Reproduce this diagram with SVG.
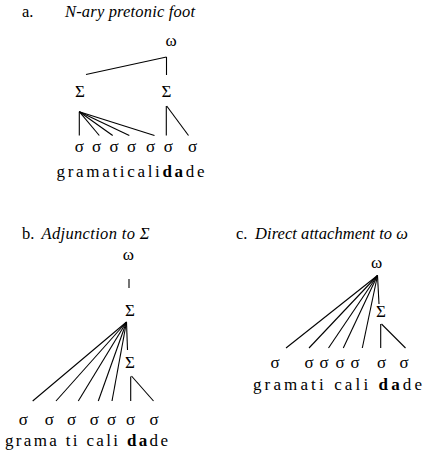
<svg xmlns="http://www.w3.org/2000/svg" width="427" height="460" viewBox="0 0 427 460" font-family="'Liberation Serif', 'DejaVu Serif', serif">
<style>
text{font-family:"Liberation Serif","DejaVu Serif",serif;fill:#000}
.t{font-size:16.5px}
.it{font-style:italic}
.n{font-size:17px;text-anchor:middle}
.w{font-size:17px}
.b{font-weight:bold}
.c line{stroke:#000;stroke-width:1.1;stroke-linecap:butt}
</style>
<rect width="427" height="460" fill="#fff"/>
<g id="titles">
<text class="t" x="22" y="17">a.</text>
<text class="t it" x="65" y="17" textLength="130" lengthAdjust="spacing">N-ary pretonic foot</text>
<text class="t" x="22" y="239">b.</text>
<text class="t it" x="41.5" y="239" textLength="108" lengthAdjust="spacing">Adjunction to Σ</text>
<text class="t" x="236" y="239">c.</text>
<text class="t it" x="255" y="239" textLength="153" lengthAdjust="spacing">Direct attachment to ω</text>
</g>
<!-- Tree a -->
<g id="a-omega"><text class="n" x="171" y="46">ω</text></g>
<g id="a-foot1"><text class="n" x="80" y="97">Σ</text></g>
<g id="a-foot2"><text class="n" x="166.5" y="97">Σ</text></g>
<g id="a-syllables">
<text class="n" x="79.3" y="151.5">σ</text>
<text class="n" x="96.7" y="151.5">σ</text>
<text class="n" x="114" y="151.5">σ</text>
<text class="n" x="131.7" y="151.5">σ</text>
<text class="n" x="150.7" y="151.5">σ</text>
<text class="n" x="168.3" y="151.5">σ</text>
<text class="n" x="192.5" y="151.5">σ</text>
</g>
<g id="a-word"><text class="w" x="56.5" y="177" textLength="148" lengthAdjust="spacing">gramaticali<tspan class="b">da</tspan>de</text></g>
<!-- Tree b -->
<g id="b-omega"><text class="n" x="128.3" y="259.5">ω</text></g>
<g id="b-foot1"><text class="n" x="130" y="316">Σ</text></g>
<g id="b-foot2"><text class="n" x="130" y="368">Σ</text></g>
<g id="b-syllables">
<text class="n" x="23.3" y="425">σ</text>
<text class="n" x="49.3" y="425">σ</text>
<text class="n" x="71.7" y="425">σ</text>
<text class="n" x="94.3" y="425">σ</text>
<text class="n" x="111.7" y="425">σ</text>
<text class="n" x="130.7" y="425">σ</text>
<text class="n" x="154" y="425">σ</text>
</g>
<g id="b-word"><text class="w" x="5" y="446" textLength="163" lengthAdjust="spacing">grama ti cali <tspan class="b">da</tspan>de</text></g>
<!-- Tree c -->
<g id="c-omega"><text class="n" x="376.7" y="267.5">ω</text></g>
<g id="c-foot"><text class="n" x="381" y="316.5">Σ</text></g>
<g id="c-syllables">
<text class="n" x="275" y="368">σ</text>
<text class="n" x="309" y="368">σ</text>
<text class="n" x="324" y="368">σ</text>
<text class="n" x="340" y="368">σ</text>
<text class="n" x="355" y="368">σ</text>
<text class="n" x="381.5" y="368">σ</text>
<text class="n" x="404" y="368">σ</text>
</g>
<g id="c-word"><text class="w" x="253" y="390" textLength="169" lengthAdjust="spacing">gramati cali <tspan class="b">da</tspan>de</text></g>
<g id="connectors" class="c">
<!-- a -->
<line x1="86" y1="74.5" x2="166.5" y2="57"/>
<line x1="166.5" y1="57" x2="166.5" y2="75"/>
<line x1="79.3" y1="111.7" x2="79.3" y2="135.5"/>
<line x1="79.3" y1="111.7" x2="99.3" y2="135.5"/>
<line x1="79.3" y1="111.7" x2="112.7" y2="135.5"/>
<line x1="79.3" y1="111.7" x2="129.3" y2="135.5"/>
<line x1="79.3" y1="111.7" x2="154.5" y2="135.5"/>
<line x1="166.3" y1="106" x2="166.3" y2="135.5"/>
<line x1="166.7" y1="106" x2="188.5" y2="135.5"/>
<!-- b -->
<line x1="129" y1="279" x2="129" y2="288"/>
<line x1="126.5" y1="322" x2="32.7" y2="401"/>
<line x1="126.5" y1="322" x2="56" y2="401"/>
<line x1="126.5" y1="322" x2="78.3" y2="401"/>
<line x1="126.5" y1="322" x2="98.3" y2="401"/>
<line x1="126.5" y1="322" x2="112" y2="401"/>
<line x1="126.5" y1="322" x2="127.5" y2="350"/>
<line x1="130.7" y1="376.5" x2="130.7" y2="401"/>
<line x1="131.5" y1="376" x2="153.5" y2="401"/>
<!-- c -->
<line x1="377.5" y1="275.5" x2="286" y2="348"/>
<line x1="377.5" y1="275.5" x2="309" y2="348"/>
<line x1="377.5" y1="275.5" x2="328.5" y2="348"/>
<line x1="377.5" y1="275.5" x2="343.3" y2="348"/>
<line x1="377.5" y1="275.5" x2="362.3" y2="348"/>
<line x1="377.5" y1="275.5" x2="379" y2="304"/>
<line x1="380.7" y1="324" x2="380.7" y2="348"/>
<line x1="381.5" y1="324" x2="405.5" y2="348"/>
</g>
</svg>
